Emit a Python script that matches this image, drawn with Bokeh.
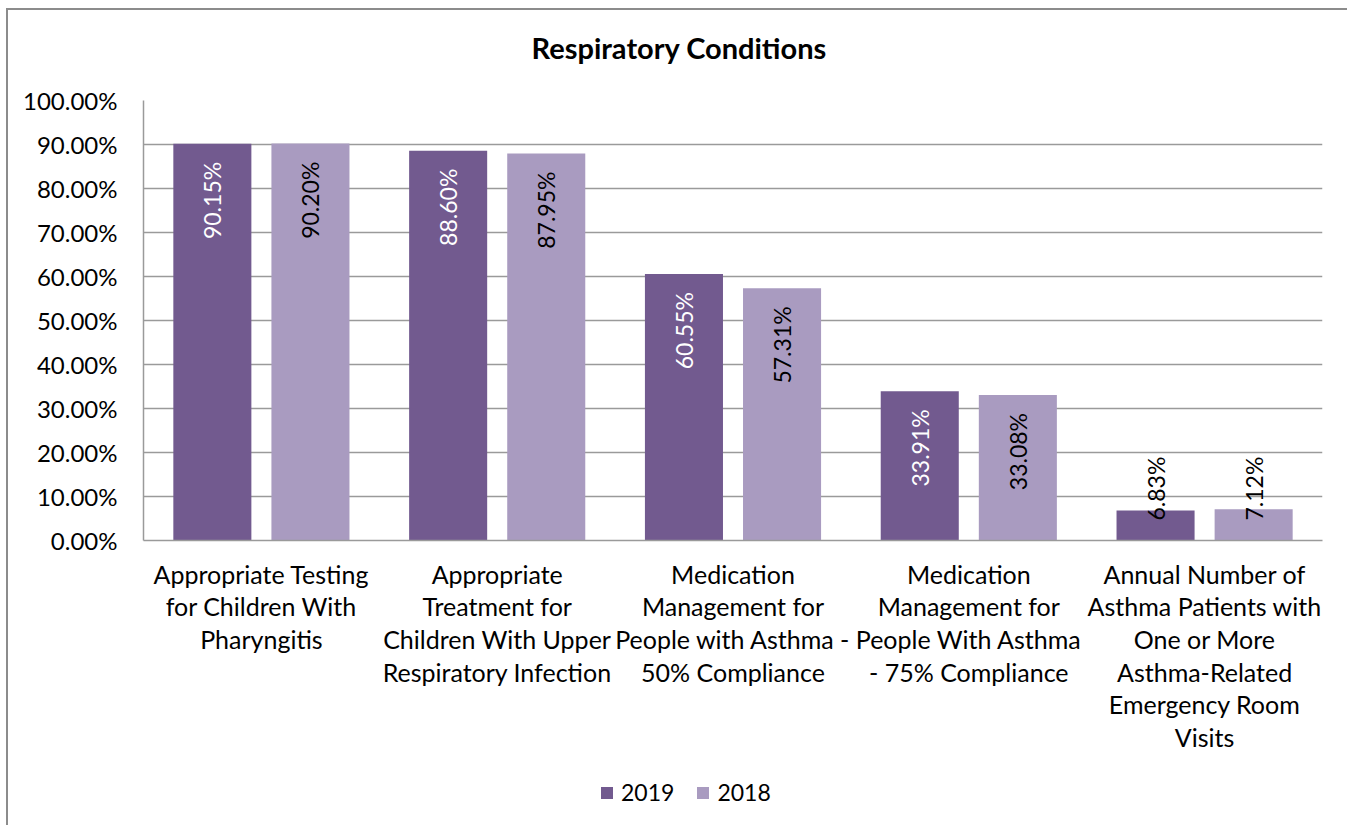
from bokeh.plotting import figure
from bokeh.layouts import column, row
from bokeh.models import (ColumnDataSource, FixedTicker, NumeralTickFormatter, Legend, LegendItem,
                          Range1d, Spacer, Title)
from bokeh.core.properties import value
from bokeh.embed import file_html
from bokeh.resources import INLINE

# ---- data ----
categories = [
    "Appropriate Testing\nfor Children With\nPharyngitis",
    "Appropriate\nTreatment for\nChildren With Upper\nRespiratory Infection",
    "Medication\nManagement for\nPeople with Asthma -\n50% Compliance",
    "Medication\nManagement for\nPeople With Asthma\n- 75% Compliance",
    "Annual Number of\nAsthma Patients with\nOne or More\nAsthma-Related\nEmergency Room\nVisits",
]
series = ["2019", "2018"]
values_2019 = [0.9015, 0.8860, 0.6055, 0.3391, 0.0683]
values_2018 = [0.9020, 0.8795, 0.5731, 0.3308, 0.0712]
y_ticks = [0.0, 0.1, 0.2, 0.3, 0.4, 0.5, 0.6, 0.7, 0.8, 0.9, 1.0]

FONT = "Lato"
C2019 = "#725A8F"
C2018 = "#A99BC0"
GRID = "#9a9a9a"
BORDER = "#8c8c8c"

idx = [i + 0.5 for i in range(len(categories))]
DODGE = 0.208
BW = 0.331
INSIDE_MIN = 0.25

def make_src(vals, shift, inside_color):
    xs = [i + shift for i in idx]
    labels = ["%.2f%%" % (v * 100) for v in vals]
    ins = [v >= INSIDE_MIN for v in vals]
    return ColumnDataSource(dict(
        x=xs, top=vals, label=labels,
        ly=[v if k else 0.0 for v, k in zip(vals, ins)],
        align=["right" if k else "left" for k in ins],
        yoff=[18 if k else -20 for k in ins],
        color=[inside_color if k else "black" for k in ins],
    ))

s19 = make_src(values_2019, -DODGE, "white")
s18 = make_src(values_2018, DODGE, "black")

p = figure(width=1333, height=750, output_backend="svg", toolbar_location=None, title=None,
           x_range=Range1d(0, len(categories)), y_range=Range1d(0, 1.0),
           min_border_left=135, min_border_right=19, min_border_top=90, min_border_bottom=220,
           outline_line_color=None)

# spacer title (nearest the frame) pushes the real title upward
p.add_layout(Title(text=" ", text_font_size="1px", standoff=33), "above")
p.add_layout(Title(text="Respiratory Conditions", align="left", offset=388, text_font=FONT,
                   text_font_size="29px", text_font_style="bold", text_color="black",
                   standoff=0), "above")

p.vbar(x="x", top="top", width=BW, source=s19, color=C2019, line_color=None)
p.vbar(x="x", top="top", width=BW, source=s18, color=C2018, line_color=None)

for s in (s19, s18):
    p.text(x="x", y="ly", text="label", source=s, angle=1.5707963, text_align="align",
           text_baseline="middle", y_offset="yoff", text_color="color",
           text_font=value(FONT), text_font_size="23px")

# y axis
p.yaxis.ticker = FixedTicker(ticks=y_ticks)
p.yaxis.formatter = NumeralTickFormatter(format="0.00%")
p.yaxis.major_tick_line_color = None
p.yaxis.minor_tick_line_color = None
p.yaxis.axis_line_color = GRID
p.yaxis.axis_line_width = 1.5
p.yaxis.major_label_text_font = FONT
p.yaxis.major_label_text_font_size = "24px"
p.yaxis.major_label_text_color = "black"
p.yaxis.major_label_standoff = 20

# x axis
p.xaxis.ticker = FixedTicker(ticks=idx)
p.xaxis.major_label_overrides = {i: c for i, c in zip(idx, categories)}
p.xaxis.major_tick_line_color = None
p.xaxis.minor_tick_line_color = None
p.xaxis.axis_line_color = GRID
p.xaxis.axis_line_width = 1.5
p.xaxis.major_label_text_font = FONT
p.xaxis.major_label_text_font_size = "25px"
p.xaxis.major_label_text_line_height = 1.09
p.xaxis.major_label_text_color = "black"
p.xaxis.major_label_standoff = 12

p.xgrid.grid_line_color = None
p.ygrid.grid_line_color = GRID
p.ygrid.grid_line_width = 1.5

# legend strip under the chart
q = figure(width=1333, height=52, output_backend="svg", toolbar_location=None,
           x_range=Range1d(0, 1), y_range=Range1d(0, 1),
           x_axis_type=None, y_axis_type=None,
           min_border_left=0, min_border_right=0, min_border_top=0, min_border_bottom=0,
           outline_line_color=None)
q.grid.visible = False
lr19 = q.vbar(x=[-5], top=[0], bottom=[0], width=0.1, color=C2019, line_color=None)
lr18 = q.vbar(x=[-5], top=[0], bottom=[0], width=0.1, color=C2018, line_color=None)
legend = Legend(items=[LegendItem(label=series[0], renderers=[lr19]),
                       LegendItem(label=series[1], renderers=[lr18])],
                orientation="horizontal", location=(456, 6),
                border_line_color=None, background_fill_alpha=0,
                padding=0, margin=0, spacing=21, label_standoff=7,
                glyph_width=15, glyph_height=15,
                label_text_font=FONT, label_text_font_size="23px",
                label_text_color="black")
q.add_layout(legend, "center")

chart = column(p, q, spacing=0)
top_line = Spacer(width=1341, height=2, styles={"background-color": BORDER})
left_line = Spacer(width=2, height=815, styles={"background-color": BORDER})
layout = column(
    Spacer(height=8),
    row(Spacer(width=6), top_line, spacing=0),
    row(Spacer(width=6), left_line, chart, spacing=0),
    spacing=0)
open("out.html", "w").write(file_html(layout, INLINE))
